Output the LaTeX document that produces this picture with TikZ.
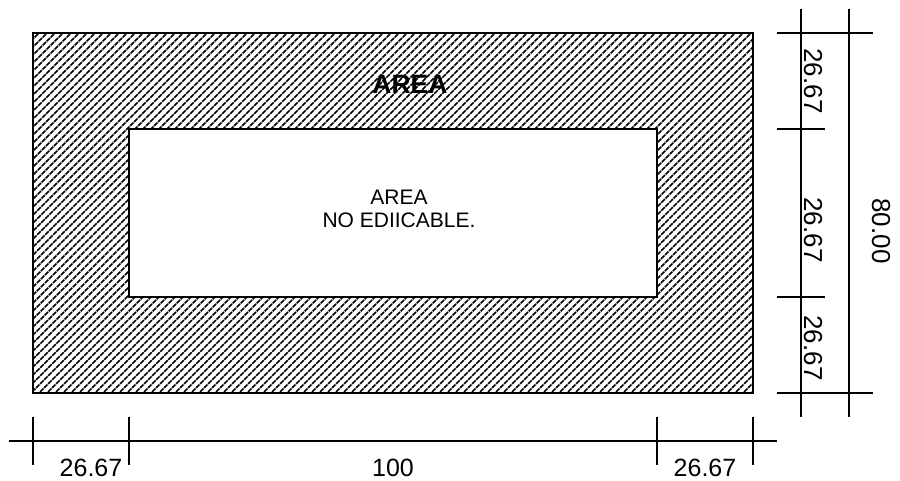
\documentclass[tikz,border=0pt]{standalone}
\usepackage{fontspec}
\setmainfont{Liberation Sans}
\definecolor[named]{drawColor}{rgb}{0.00,0.00,0.00}
\tikzset{
  wall/.style={draw=drawColor,line width=1.9pt,line join=miter},
  hatchline/.style={draw=drawColor,line width=1.7pt},
  dimline/.style={draw=drawColor,line width=1.3pt},
  dimtext/.style={text=drawColor,inner sep=0pt,outer sep=0pt,font=\fontsize{25}{25}\selectfont},
  sidetext/.style={dimtext,rotate=-90,font=\fontsize{26}{26}\selectfont},
  roomtext/.style={text=drawColor,inner sep=0pt,outer sep=0pt,align=center,font=\fontsize{21}{23}\selectfont},
}
\begin{document}
\begin{tikzpicture}[x=1pt,y=-1pt]
\path[use as bounding box,fill=white] (0,0) rectangle (900,481);
% hatched area
\begin{scope}
\path[clip] (33,33) rectangle (753,393);
\foreach \xpos in {-352,-344,...,760}
  \path[hatchline,dash pattern=on 4.8pt off 0.9pt] (\xpos,400) -- ++(375,-375);
\end{scope}
\path[wall] (33,33) rectangle (753,393);
\path[wall,fill=white] (129,129) rectangle (657,297);
% horizontal dimensions
\path[dimline] (9,441) -- (777,441);
\foreach \xpos in {33,129,657,753}
  \path[dimline] (\xpos,417) -- (\xpos,465);
% vertical dimensions
\path[dimline] (801,9) -- (801,417);
\path[dimline] (849,9) -- (849,417);
\path[dimline] (777,33) -- (873,33);
\path[dimline] (777,129) -- (825,129);
\path[dimline] (777,297) -- (825,297);
\path[dimline] (777,393) -- (873,393);
% labels
\node[roomtext,font=\fontsize{26.5}{26.5}\selectfont\bfseries] (areaTitle) at (410,84) {AREA};
\node[roomtext] (areaFree) at (399,209) {AREA\\NO EDIICABLE.};
\node[dimtext] (dimA) at (91,468) {26.67};
\node[dimtext] (dimB) at (393,468) {100};
\node[dimtext] (dimC) at (705,468) {26.67};
\node[sidetext] (dimD) at (813,81) {26.67};
\node[sidetext] (dimE) at (813,230) {26.67};
\node[sidetext] (dimF) at (813,348) {26.67};
\node[sidetext] (dimG) at (881,231) {80.00};
\end{tikzpicture}
\end{document}
